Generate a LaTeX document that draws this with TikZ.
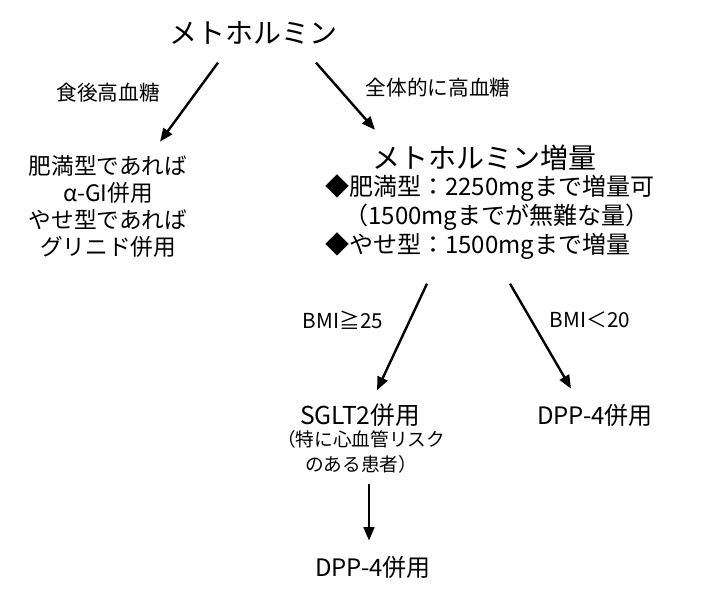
\documentclass[tikz,border=0pt]{standalone}
\usepackage{fontspec}
\setmainfont{Noto Sans CJK JP}
\usetikzlibrary{arrows.meta,calc}

\begin{document}
\begin{tikzpicture}[x=0.75pt,y=-0.75pt,
  flow/.style={-{Triangle[length=10pt,width=8pt]}, line width=1.8pt},
  txt/.style={inner sep=0pt, align=center},
  big/.style={txt, font=\fontsize{21}{25}\selectfont},
  mid/.style={txt, font=\fontsize{17}{20.25}\selectfont},
  lbl/.style={txt, font=\fontsize{15.5}{18}\selectfont},
  note/.style={txt, font=\fontsize{14}{18.75}\selectfont}]

\useasboundingbox (0,0) rectangle (711,597);

% Top
\node[big] (met) at (253,33) {メトホルミン};

% Left branch
\node[lbl] (postmeal) at (108,93) {食後高血糖};
\node[mid] (left) at (108,206) {肥満型であれば\\α-GI併用\\やせ型であれば\\グリニド併用};

% Right branch
\node[lbl] (overall) at (438,88) {全体的に高血糖};
\node[big] (upmet) at (484,158) {メトホルミン増量};
\node[mid, anchor=west, align=left, font=\fontsize{18}{21.75}\selectfont] (dose) at (325,217)
  {◆肥満型：2250mgまで増量可\\\hspace*{0.8em}（1500mgまでが無難な量）\\◆やせ型：1500mgまで増量};

% BMI split
\node[lbl] (bmihi) at (343,320) {BMI≧25};
\node[lbl] (bmilo) at (590,320) {BMI＜20};
\node[mid, font=\fontsize{18.5}{22}\selectfont] (sglt) at (360,415) {SGLT2併用};
\node[note] (risk) at (361,452) {（特に心血管リスク\\のある患者）};
\node[mid, font=\fontsize{18}{22}\selectfont] (dppr) at (595,415) {DPP-4併用};
\node[mid, font=\fontsize{18}{22}\selectfont] (dppb) at (373,567) {DPP-4併用};

% Arrows
\draw[flow] ($(met.south)+(-35,18)$) -- ($(left.north)+(52,-13)$);
\draw[flow] ($(met.south)+(63,18)$) -- ($(upmet.north)+(-109,-15)$);
\draw[flow] ($(dose.south west)+(102,24)$) -- ($(sglt.north)+(17,-13)$);
\draw[flow] ($(dose.south west)+(185,24)$) -- ($(dppr.north)+(-24,-15)$);
\draw[flow] ($(risk.south)+(8,10)$) -- ($(dppb.north)+(-4,-15)$);

\end{tikzpicture}
\end{document}
